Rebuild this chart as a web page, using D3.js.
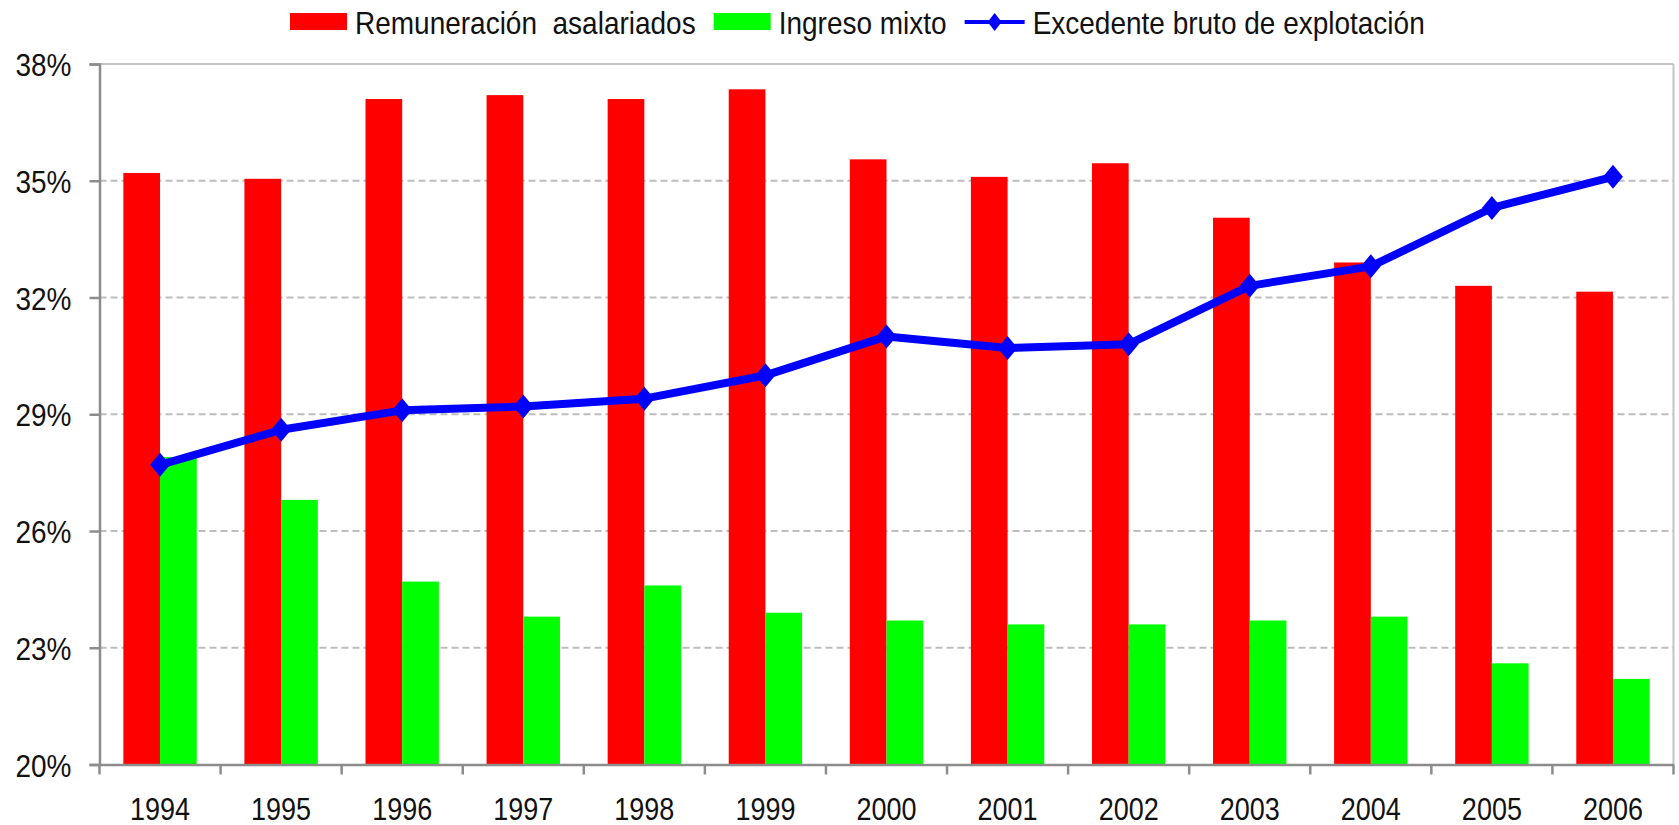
<!DOCTYPE html>
<html>
<head>
<meta charset="utf-8">
<script src="https://cdn.jsdelivr.net/npm/d3@7"></script>
<style>
    body { margin: 0; background: #fff; }
    text { font-family: "Liberation Sans", Arial, sans-serif; fill: #111; }
</style>
</head>
<body>
<svg id="chart" width="1679" height="825"></svg>
<script>
const years = ['1994', '1995', '1996', '1997', '1998', '1999', '2000', '2001', '2002', '2003', '2004', '2005', '2006'];
const remuneracion = [35.2, 35.05, 37.1, 37.2, 37.1, 37.35, 35.55, 35.1, 35.45, 34.05, 32.9, 32.3, 32.15];
const ingresoMixto = [27.9, 26.8, 24.7, 23.8, 24.6, 23.9, 23.7, 23.6, 23.6, 23.7, 23.8, 22.6, 22.2];
const excedente = [27.7, 28.6, 29.1, 29.2, 29.4, 30.0, 31.0, 30.7, 30.8, 32.3, 32.8, 34.3, 35.1];
const yTicks = [20, 23, 26, 29, 32, 35, 38];
const seriesNames = ['Remuneración asalariados', 'Ingreso mixto', 'Excedente bruto de explotación'];

const svg = d3.select('svg');
const plotLeft = 99.5, plotRight = 1673.5, plotTop = 64, plotBottom = 764.5;
const stretch = 'scale(1,1.15)'; // the original text looks a bit tall

const xScale = d3.scaleBand()
    .domain(years)
    .range([plotLeft, plotRight])
    .padding(0);

const subScale = d3.scaleBand()
    .domain(['rem', 'mix'])
    .range([0, xScale.bandwidth()])
    .paddingInner(0)
    .paddingOuter(0.65);

const yScale = d3.scaleLinear()
    .domain([20, 38])
    .range([plotBottom, plotTop]);

// grid lines
svg.append('g')
    .selectAll('line')
    .data(yTicks.filter(function (d) { return d > 20 && d < 38; }))
    .enter()
    .append('line')
    .attr('x1', plotLeft)
    .attr('x2', plotRight)
    .attr('y1', function (d) { return yScale(d); })
    .attr('y2', function (d) { return yScale(d); })
    .attr('stroke', '#bdbdbd')
    .attr('stroke-width', 2)
    .attr('stroke-dasharray', '7,4');

// plot border top / right
svg.append('line')
    .attr('x1', plotLeft).attr('x2', plotRight)
    .attr('y1', yScale(38)).attr('y2', yScale(38))
    .attr('stroke', '#c4c4c4').attr('stroke-width', 2);
svg.append('line')
    .attr('x1', plotRight).attr('x2', plotRight)
    .attr('y1', plotTop).attr('y2', plotBottom)
    .attr('stroke', '#c4c4c4').attr('stroke-width', 2);

// bars
const groups = svg.append('g')
    .selectAll('g')
    .data(years)
    .enter()
    .append('g')
    .attr('transform', function (d) { return 'translate(' + xScale(d) + ',0)'; });

groups.append('rect')
    .attr('x', subScale('rem'))
    .attr('y', function (d, i) { return yScale(remuneracion[i]); })
    .attr('width', subScale.bandwidth())
    .attr('height', function (d, i) { return plotBottom - yScale(remuneracion[i]); })
    .attr('fill', '#ff0000');

groups.append('rect')
    .attr('x', subScale('mix'))
    .attr('y', function (d, i) { return yScale(ingresoMixto[i]); })
    .attr('width', subScale.bandwidth())
    .attr('height', function (d, i) { return plotBottom - yScale(ingresoMixto[i]); })
    .attr('fill', '#00ff00');

// y axis
const yAxis = svg.append('g')
    .attr('transform', 'translate(' + plotLeft + ',0)')
    .call(d3.axisLeft(yScale).tickValues(yTicks).tickSize(10).tickPadding(18)
        .tickFormat(function (d) { return d + '%'; }));
yAxis.select('.domain').attr('stroke', '#8c8c8c').attr('stroke-width', 2.5);
yAxis.selectAll('.tick line').attr('stroke', '#8c8c8c').attr('stroke-width', 2.5);
yAxis.selectAll('text')
    .attr('font-size', 28)
    .attr('dy', '0.36em')
    .attr('transform', stretch)
    .style('fill', '#111');

// x axis (ticks between categories)
const xAxis = svg.append('g')
    .attr('transform', 'translate(0,' + plotBottom + ')')
    .call(d3.axisBottom(xScale).tickSize(0));
xAxis.select('.domain').attr('stroke', '#8c8c8c').attr('stroke-width', 2.5);
xAxis.selectAll('text')
    .attr('font-size', 27)
    .attr('y', 0)
    .attr('dy', 0)
    .attr('transform', 'translate(0,55) ' + stretch)
    .style('fill', '#111');
xAxis.selectAll('.sep')
    .data(years.concat(['end']))
    .enter()
    .append('line')
    .attr('class', 'sep')
    .attr('x1', function (d) { return d === 'end' ? plotRight : xScale(d); })
    .attr('x2', function (d) { return d === 'end' ? plotRight : xScale(d); })
    .attr('y1', 0)
    .attr('y2', 10)
    .attr('stroke', '#8c8c8c')
    .attr('stroke-width', 2.5);

// line series
const lineGenerator = d3.line()
    .x(function (d, i) { return xScale(years[i]) + xScale.bandwidth() / 2; })
    .y(function (d) { return yScale(d); });

svg.append('path')
    .attr('d', lineGenerator(excedente))
    .attr('fill', 'none')
    .attr('stroke', '#0000ff')
    .attr('stroke-width', 8)
    .attr('stroke-linejoin', 'round');

const diamond = 'M0,-12L10,0L0,12L-10,0Z';
svg.append('g')
    .selectAll('path')
    .data(excedente)
    .enter()
    .append('path')
    .attr('d', diamond)
    .attr('transform', function (d, i) {
        return 'translate(' + (xScale(years[i]) + xScale.bandwidth() / 2) + ',' + yScale(d) + ')';
    })
    .attr('fill', '#0000ff');

// legend
const legend = svg.append('g').attr('transform', 'translate(290,0)');
let lx = 0;
seriesNames.forEach(function (name, i) {
    const item = legend.append('g').attr('transform', 'translate(' + lx + ',0)');
    if (i < 2) {
        item.append('rect')
            .attr('x', 0).attr('y', 13)
            .attr('width', 57).attr('height', 17)
            .attr('fill', i === 0 ? '#ff0000' : '#00ff00');
    } else {
        item.append('line')
            .attr('x1', 0).attr('x2', 60)
            .attr('y1', 22).attr('y2', 22)
            .attr('stroke', '#0000ff').attr('stroke-width', 4);
        item.append('path')
            .attr('d', 'M0,-9L7,0L0,9L-7,0Z')
            .attr('transform', 'translate(30,22)')
            .attr('fill', '#0000ff');
    }
    const t = item.append('text')
        .attr('transform', 'translate(' + (i < 2 ? 65 : 68) + ',34) ' + stretch)
        .attr('font-size', 28)
        .style('white-space', 'pre')
        .text(i === 0 ? 'Remuneración  asalariados' : name);
    lx += (i < 2 ? 65 : 68) + t.node().getComputedTextLength() + 18;
});
</script>
</body>
</html>
